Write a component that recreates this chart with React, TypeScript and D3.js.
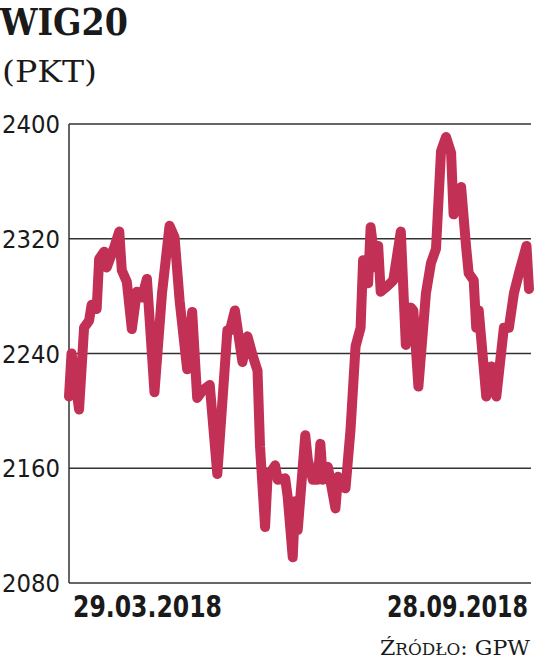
import React from "react";
import * as d3 from "d3";

const title = "WIG20";
const unit = "(PKT)";
const startLabel = "29.03.2018";
const endLabel = "28.09.2018";
const yTicks = [2080, 2160, 2240, 2320, 2400];

// days since 29.03.2018
const dayOffsets = [
  0, 1, 4, 6, 8, 9, 11, 12, 14, 15, 18, 20, 21, 23, 25, 27, 29, 31, 34, 37, 40, 42, 44,
  47, 49, 51, 53, 56, 59, 63, 64, 66, 69, 71, 73, 75, 76, 78, 79, 82, 83, 86, 87, 89, 90,
  91, 94, 95, 97, 99, 100, 101, 103, 106, 107, 109, 110, 112, 114, 116, 117, 119, 120,
  122, 123, 124, 126, 129, 132, 134, 136, 137, 139, 142, 144, 146, 148, 150, 152, 153,
  156, 158, 159, 161, 162, 163, 166, 168, 170, 173, 175, 177, 179, 182, 183,
];
const values = [
  2210, 2240, 2201, 2258, 2263, 2274, 2271, 2306, 2311, 2300, 2314, 2325, 2298, 2290,
  2257, 2283, 2279, 2292, 2213, 2282, 2329, 2321, 2277, 2229, 2269, 2209, 2214, 2218,
  2156, 2256, 2256, 2270, 2234, 2252, 2239, 2228, 2175, 2119, 2154, 2162, 2152, 2153,
  2140, 2098, 2137, 2117, 2183, 2166, 2152, 2152, 2177, 2152, 2161, 2132, 2154, 2147,
  2146, 2187, 2245, 2258, 2305, 2289, 2328, 2300, 2315, 2283, 2286, 2291, 2325, 2246,
  2272, 2270, 2217, 2282, 2303, 2313, 2381, 2391, 2380, 2337, 2356, 2314, 2296, 2291,
  2258, 2270, 2210, 2231, 2210, 2258, 2258, 2282, 2296, 2315, 2285,
];

const W = 536;
const H = 667;
const x0 = 69;
const x1 = 531;
const yTop = 124;
const yBottom = 583;
const SQ = 0.75;

export default function App() {
  const start = new Date(2018, 2, 29);
  const end = new Date(2018, 8, 28);
  const data = dayOffsets.map((d, i) => ({ date: d3.timeDay.offset(start, d), v: values[i] }));
  const x = d3.scaleTime().domain([start, end]).range([x0, 529]);
  const y = d3.scaleLinear().domain([2080, 2400]).range([yBottom, yTop]);
  const line = d3
    .line<{ date: Date; v: number }>()
    .x((d) => x(d.date))
    .y((d) => y(d.v));

  return (
    <svg
      width={W}
      height={H}
      style={{ position: "absolute", left: 0, top: 0, background: "#fff" }}
    >
      <text
        x={0}
        y={35}
        fontFamily="'DejaVu Serif'"
        fontWeight="bold"
        fontSize={38}
        fill="#1a1a1a"
        textLength={128}
        lengthAdjust="spacingAndGlyphs"
      >
        {title}
      </text>
      <text
        x={2}
        y={82}
        fontFamily="'DejaVu Serif'"
        fontSize={29}
        fill="#1a1a1a"
        textLength={95}
        lengthAdjust="spacingAndGlyphs"
      >
        {unit}
      </text>

      {yTicks.map((t) => (
        <g key={t}>
          <line x1={x0} x2={x1} y1={y(t)} y2={y(t)} stroke="#333" strokeWidth={1.5} />
          <text
            transform={`translate(60,${y(t) + 9}) scale(${SQ},1)`}
            textAnchor="end"
            fontFamily="'DejaVu Sans'"
            fontSize={25}
            fill="#1a1a1a"
            textLength={58 / SQ}
            lengthAdjust="spacingAndGlyphs"
          >
            {t}
          </text>
        </g>
      ))}
      <line x1={x0} x2={x0} y1={yTop} y2={yBottom} stroke="#333" strokeWidth={1.5} />

      <path
        d={line(data) || ""}
        fill="none"
        stroke="#c33056"
        strokeWidth={10}
        strokeLinejoin="round"
        strokeLinecap="round"
      />

      <text
        transform={`translate(73,617) scale(${SQ},1)`}
        fontFamily="'DejaVu Sans'"
        fontWeight="bold"
        fontSize={30}
        fill="#1a1a1a"
        textLength={149 / SQ}
        lengthAdjust="spacingAndGlyphs"
      >
        {startLabel}
      </text>
      <text
        transform={`translate(387,617) scale(${SQ},1)`}
        fontFamily="'DejaVu Sans'"
        fontWeight="bold"
        fontSize={30}
        fill="#1a1a1a"
        textLength={141 / SQ}
        lengthAdjust="spacingAndGlyphs"
      >
        {endLabel}
      </text>
      <text
        x={380}
        y={655}
        fontFamily="'DejaVu Serif'"
        fontSize={21}
        fill="#1a1a1a"
        textLength={150}
        lengthAdjust="spacingAndGlyphs"
      >
        <tspan>Ź</tspan>
        <tspan fontSize={16}>RÓDŁO</tspan>
        <tspan>: GPW</tspan>
      </text>
    </svg>
  );
}
